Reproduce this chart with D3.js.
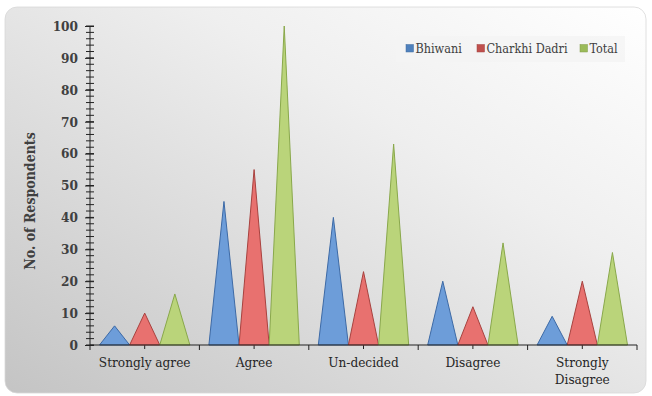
<!DOCTYPE html>
<html>
<head>
<meta charset="utf-8">
<script src="https://cdn.jsdelivr.net/npm/d3@7"></script>
<style>
  html, body { margin: 0; padding: 0; background: #fff; }
  svg text { font-family: "DejaVu Serif", serif; font-stretch: condensed; }
</style>
</head>
<body>
<div id="chart"></div>
<script>
// survey responses by district
const categories = ["Strongly agree", "Agree", "Un-decided", "Disagree", "Strongly Disagree"];
const seriesNames = ["Bhiwani", "Charkhi Dadri", "Total"];
const bhiwani = [6, 45, 40, 20, 9];
const charkhiDadri = [10, 55, 23, 12, 20];
const total = [16, 100, 63, 32, 29];
const yTicks = [0, 10, 20, 30, 40, 50, 60, 70, 80, 90, 100];

const seriesValues = [bhiwani, charkhiDadri, total];
const fills = ["#6d9dd9", "#e8716f", "#bad47a"];
const strokes = ["#3d6aa6", "#a8423f", "#89a84b"];
const legendColors = ["#4f81bd", "#c0504d", "#9bbb59"];

const width = 652, height = 396;

const svg = d3.select("#chart").append("svg")
    .attr("width", width)
    .attr("height", height)
    .style("display", "block");

// background panel
const defs = svg.append("defs");
const grad = defs.append("linearGradient")
    .attr("id", "bg")
    .attr("x1", "100%").attr("y1", "0%")
    .attr("x2", "0%").attr("y2", "100%");
grad.append("stop").attr("offset", "0%").attr("stop-color", "#ffffff");
grad.append("stop").attr("offset", "35%").attr("stop-color", "#efefef");
grad.append("stop").attr("offset", "100%").attr("stop-color", "#c4c4c4");

svg.append("rect")
    .attr("x", 5).attr("y", 7)
    .attr("width", 641).attr("height", 386)
    .attr("rx", 12)
    .attr("fill", "url(#bg)")
    .attr("stroke", "#d8d8d8")
    .attr("stroke-width", 0.8);

const x = d3.scaleBand()
    .domain(categories)
    .range([90, 637]);

const inner = d3.scaleBand()
    .domain(seriesNames)
    .range([9.5, x.bandwidth() - 9.5]);

const y = d3.scaleLinear()
    .domain([0, 100])
    .range([345, 26]);

// y axis with minor ticks
const yMinor = d3.range(0, 101, 2);
svg.append("g")
    .selectAll("line")
    .data(yMinor)
    .join("line")
    .attr("x1", 86).attr("x2", 94)
    .attr("y1", d => y(d)).attr("y2", d => y(d))
    .attr("stroke", "#222")
    .attr("stroke-width", 1);

const yAxis = svg.append("g")
    .attr("transform", "translate(90,0)")
    .call(d3.axisLeft(y).tickValues(yTicks).tickSize(5).tickPadding(7));
yAxis.select(".domain").attr("stroke", "#222").attr("d", `M0,${y(100)}V${y(0)}`);
yAxis.selectAll(".tick line").attr("stroke", "#222").attr("x2", -5).attr("x1", 4);
yAxis.selectAll(".tick text")
    .attr("font-size", 13.5)
    .attr("font-weight", "bold")
    .attr("fill", "#404040");

// x axis
const xg = svg.append("g")
    .attr("transform", `translate(0,${y(0)})`);
const bounds = categories.map(c => x(c)).concat([637]);
xg.selectAll("line.bound")
    .data(bounds)
    .join("line")
    .attr("class", "bound")
    .attr("x1", d => d).attr("x2", d => d)
    .attr("y1", 0).attr("y2", 5)
    .attr("stroke", "#222");
xg.selectAll("line.mid")
    .data(categories)
    .join("line")
    .attr("class", "mid")
    .attr("x1", d => x(d) + x.bandwidth() / 2).attr("x2", d => x(d) + x.bandwidth() / 2)
    .attr("y1", -4).attr("y2", 4)
    .attr("stroke", "#222");

const xLabels = xg.selectAll("text.cat")
    .data(categories)
    .join("text")
    .attr("class", "cat")
    .attr("x", d => x(d) + x.bandwidth() / 2)
    .attr("y", 22)
    .attr("text-anchor", "middle")
    .attr("font-size", 13.5)
    .attr("fill", "#262626");
xLabels.each(function(d) {
    const t = d3.select(this);
    const parts = d === "Strongly Disagree" ? ["Strongly", "Disagree"] : [d];
    parts.forEach((p, i) => {
        t.append("tspan")
            .attr("x", x(d) + x.bandwidth() / 2)
            .attr("dy", i === 0 ? 0 : 17)
            .text(p);
    });
});

// triangles
const base = y(0);
seriesNames.forEach((s, si) => {
    svg.append("g")
        .selectAll("path")
        .data(categories.map((c, i) => ({ c, v: seriesValues[si][i] })))
        .join("path")
        .attr("d", d => {
            const x0 = x(d.c) + inner(s);
            const w = inner.bandwidth();
            return `M${x0},${base}L${x0 + w / 2},${y(d.v)}L${x0 + w},${base}Z`;
        })
        .attr("fill", fills[si])
        .attr("stroke", strokes[si])
        .attr("stroke-width", 1)
        .attr("stroke-linejoin", "round");
});

// axis line over the triangle bases
svg.append("line")
    .attr("x1", 90).attr("x2", 637)
    .attr("y1", base).attr("y2", base)
    .attr("stroke", "#222").attr("stroke-width", 1.2);

// y label
svg.append("text")
    .attr("transform", "translate(35,201) rotate(-90)")
    .attr("text-anchor", "middle")
    .attr("font-size", 14)
    .attr("font-weight", "bold")
    .attr("fill", "#404040")
    .text("No. of Respondents");

// legend
const legend = svg.append("g");
legend.append("rect")
    .attr("x", 396).attr("y", 36)
    .attr("width", 229).attr("height", 26)
    .attr("fill", "#f4f4f4")
    .attr("opacity", 0.8);
const legendX = [406, 477, 580];
seriesNames.forEach((s, i) => {
    legend.append("rect")
        .attr("x", legendX[i]).attr("y", 44.5)
        .attr("width", 7.5).attr("height", 7.5)
        .attr("fill", legendColors[i])
        .attr("stroke", d3.color(legendColors[i]).darker(0.5))
        .attr("stroke-width", 0.5);
    legend.append("text")
        .attr("x", legendX[i] + 9.5).attr("y", 53)
        .attr("font-size", 12.5)
        .attr("fill", "#404040")
        .text(s);
});
</script>
</body>
</html>
